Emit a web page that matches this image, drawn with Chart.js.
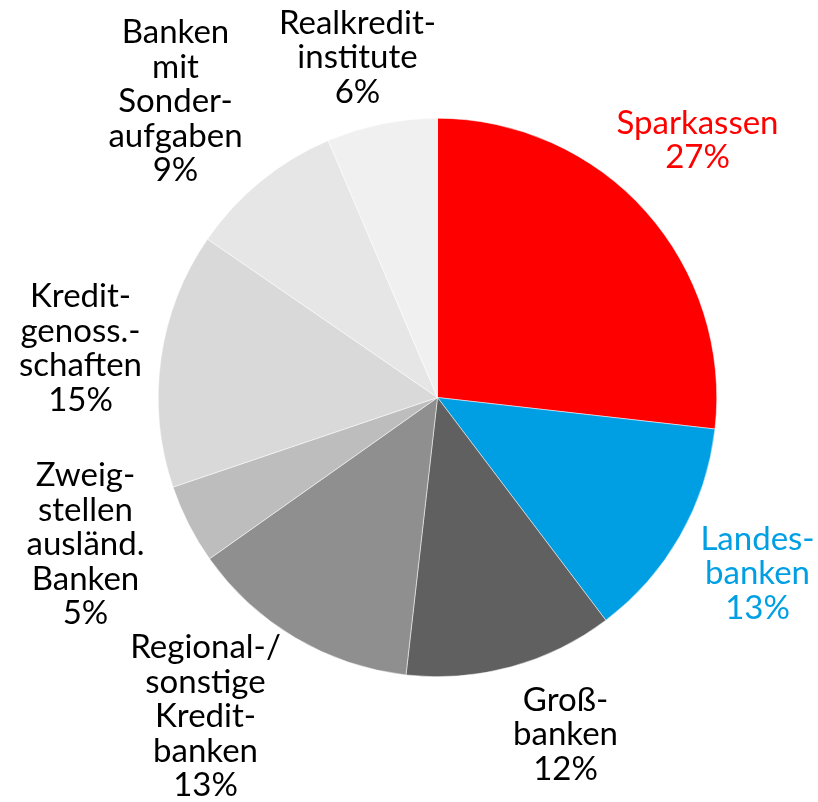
<!DOCTYPE html>
<html>
<head>
<meta charset="utf-8">
<script src="https://cdn.jsdelivr.net/npm/chart.js@4"></script>
<style>
body { margin: 0; background: #fff; }
</style>
</head>
<body>
<canvas id="myChart" width="818" height="802"></canvas>
<script>
// Bankengruppen, Anteile in Prozent (im Uhrzeigersinn ab 12 Uhr)
var categories = [
  ["Sparkassen"],
  ["Landes-", "banken"],
  ["Groß-", "banken"],
  ["Regional-/", "sonstige", "Kredit-", "banken"],
  ["Zweig-", "stellen", "ausländ.", "Banken"],
  ["Kredit-", "genoss.-", "schaften"],
  ["Banken", "mit", "Sonder-", "aufgaben"],
  ["Realkredit-", "institute"]
];
var values = [26.8, 12.9, 12.1, 13.4, 4.6, 14.8, 9.0, 6.4];
var colors = ["#ff0000", "#009fe3", "#606060", "#8f8f8f", "#bdbdbd", "#d9d9d9", "#e6e6e6", "#f0f0f0"];
var textColors = ["#ff0000", "#009fe3", "#000", "#000", "#000", "#000", "#000", "#000"];

// label block centres, relative to the pie centre
var labelPos = [[260, -257], [320, 176], [128, 337], [-232, 319], [-352, 147], [-357, -49], [-262, -296], [-80, -340]];

var labelPlugin = {
  id: "outerLabels",
  afterDraw: function(chart) {
    var ctx = chart.ctx;
    var arc = chart.getDatasetMeta(0).data[0];
    var cx = arc.x, cy = arc.y;
    var lh = 34.5;
    ctx.save();
    ctx.font = "33px Lato";
    ctx.textAlign = "center";
    ctx.textBaseline = "middle";
    for (var i = 0; i < values.length; i++) {
      var lines = categories[i].concat([Math.round(values[i]) + "%"]);
      var y0 = cy + labelPos[i][1] - (lines.length - 1) * lh / 2;
      ctx.fillStyle = textColors[i];
      for (var j = 0; j < lines.length; j++) {
        ctx.fillText(lines[j], cx + labelPos[i][0], y0 + j * lh);
      }
    }
    ctx.restore();
  }
};

var ctx = document.getElementById("myChart").getContext("2d");
var myChart = new Chart(ctx, {
  type: "pie",
  data: {
    labels: categories.map(function(c) { return c.join(""); }),
    datasets: [{
      data: values,
      backgroundColor: colors,
      borderColor: "#ffffff",
      borderWidth: 0.5
    }]
  },
  options: {
    responsive: false,
    animation: false,
    layout: { padding: { top: 118, bottom: 125, left: 158, right: 101 } },
    plugins: {
      legend: { display: false },
      tooltip: { enabled: false }
    }
  },
  plugins: [labelPlugin]
});
</script>
</body>
</html>
